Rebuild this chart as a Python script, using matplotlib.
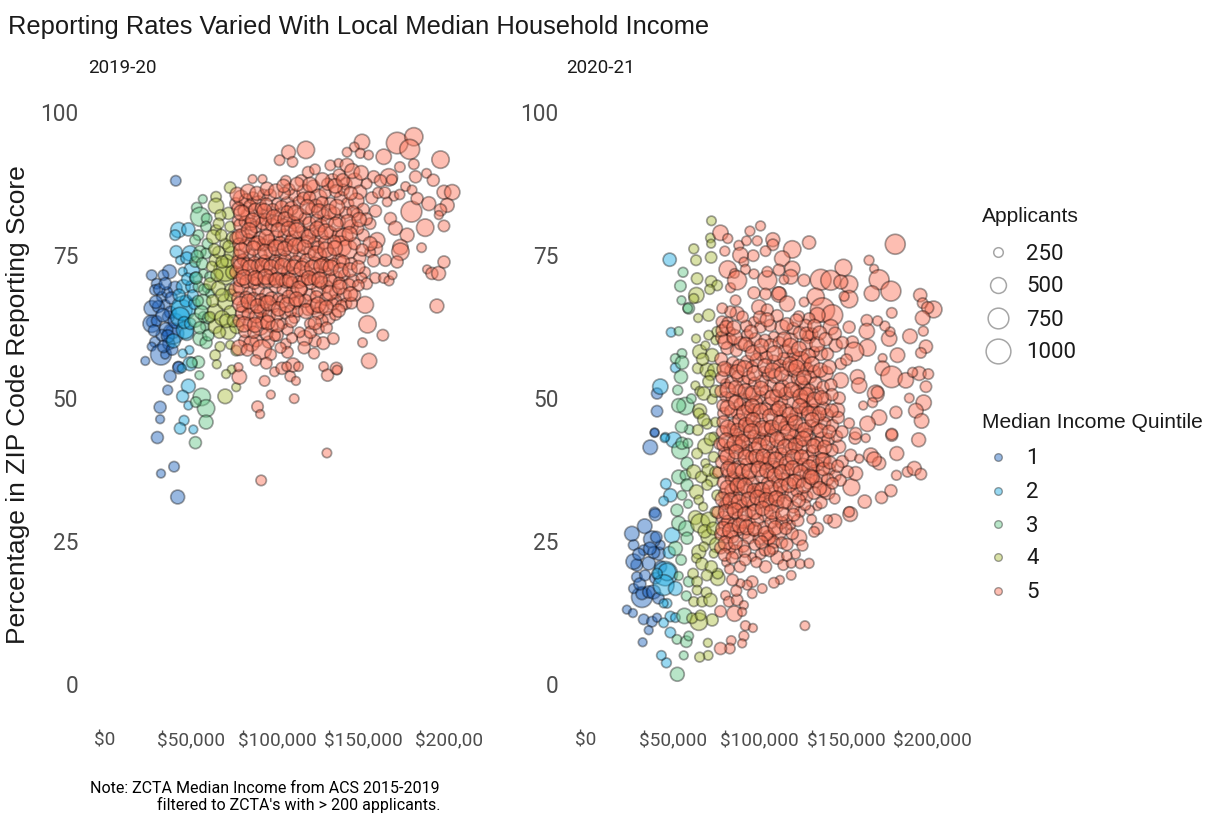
import numpy as np
import pandas as pd
import matplotlib
matplotlib.use('Agg')
import matplotlib.pyplot as plt

plt.rcParams['font.family'] = ['Roboto', 'DejaVu Sans']

# values: (median income in $1000, percent reporting, applicants)
q1_2019 = [(41.1,88,250),(27.1,71.5,250),(37.4,72.1,365),(33.9,71.5,250),(30,70,250),(40.7,69.2,365),(29,68.9,250),
           (33,67.7,250),(27.1,65.7,420),(34.9,66.3,250),(36.8,64.2,300),(27.1,63.3,250),(27.1,63,505),(39.3,61.6,365),
           (39.7,61.3,665),(29,59.8,250),(27.1,59,200),(32.5,57.6,665),(34.9,57.6,200),(23.4,56.5,200),(42.6,55.5,250),
           (42.8,55.3,300),(37.8,53.8,300),(36.4,51.4,230),(32,48.4,300),(32,46.3,200),(30.4,43.1,300),(40.1,38,250),
           (32.5,36.8,200),(42.2,32.7,365),(31,66,300),(35.5,62,350),(38,65,300),(33,61,280),(30,63.5,250),(36,68.5,260),
           (41,63.5,400),(37,59.5,300),(31.5,69,280),(35,70,300),(28.5,61.8,280),(33.5,64.5,350),(36.5,60.8,330),(34,59,300),
           (38.5,67.5,300),(29.5,66.8,320),(39,58.5,280)]
q2_2019 = [(42.6,79.4,420),(48.4,79.5,340),(40.7,78.5,250),(41.3,75.6,300),(49.4,75.3,420),(43.6,74.1,200),(50.4,72.4,420),
           (45.1,72.1,200),(45.5,69.5,365),(50.4,69.5,300),(44.6,65.4,665),(45.5,65.7,850),(43.6,64.2,580),(47.5,61.3,365),
           (46.5,61.9,505),(49,58.4,200),(45.1,57.8,200),(49.4,56,365),(44.6,55.2,200),(48.4,52.1,365),(45.1,50.3,300),
           (48.4,48.7,200),(45.9,46.1,230),(43.6,44.7,280),(51.3,44.5,200),(39.7,60,365),(47,67,300),(52,66.5,280),
           (48,70.8,300),(51,68,260),(46,63.2,300),(49.5,63,280),(52.5,71,280),(47.5,74.5,300),(43,68,300)]
q3_2019 = [(56.8,84.8,200),(53.3,83.3,250),(55.2,81.7,580),(59.1,81.4,250),(58.7,80,250),(54.3,78.5,250),(52.3,77.6,250),
           (55.2,75.6,300),(58.7,75.3,250),(52.3,73.8,250),(57.2,71.8,200),(61,71.2,250),(54.3,69.5,250),(59.1,69.2,200),
           (57.2,66.8,420),(61,68.3,200),(52.3,63.6,365),(57.2,64.2,250),(58.1,62.5,200),(55.2,60.4,365),(58.7,59.7,300),
           (54.3,56.3,300),(50.4,56.2,250),(54.8,54,200),(56.2,50.2,505),(58.7,48.2,505),(52.7,49.3,250),(58.7,45.8,365),
           (52.5,42.2,300),(56,65,350),(60,64,280),(54,67,260),(53.5,74.8,300),(56.5,73.5,280),(59.5,77,250),(55,62.3,300),
           (60,61,280),(53,71,300),(57.5,69,260)]
q4_2019 = [(72.7,86.8,280),(64.5,85.2,250),(64.5,83.6,420),(71.7,82.3,300),(72.7,80,250),(64.5,79.4,250),(63,78.2,365),
           (73.6,75.3,365),(69.8,77,250),(64,74.1,300),(69.8,71.5,580),(69.8,72.4,750),(61,70,300),(65.9,69.2,365),(72.7,69,250),
           (64,65.1,420),(69.8,66.8,420),(64,62.5,365),(72.7,65.1,300),(61,64.2,250),(71.7,61.6,420),(76.5,62.5,365),(66.8,59,230),
           (64,57.5,250),(64.9,55.9,200),(72.7,59.3,200),(76.2,58.3,250),(73.6,55,200),(70.3,54.2,200),(76.2,51.9,200),
           (69.8,50.3,390),(66,75.5,300),(68,64,400),(74,72,350),(67,82,260),(62,73,250),(73,68,300),(67.5,78.5,280),(71,74,320),
           (65,71.5,300),(74,78,300),(68,68,340),(66.5,61.5,300),(70.5,63.5,350),(62.5,67,300),(74.5,63.5,300),(68,73.8,300),
           (72,76.5,300),(63.5,76,280),(66,80.5,260)]
q5_2019 = [(90.7,35.6,250),(128.9,40.4,220),(88.6,48.5,280),(90.1,47.2,200),(96.3,50.6,200),(109.9,49.9,220),(92.7,53,250),
           (78,53.7,390),(77.5,55.4,200),(98.5,54.6,220),(102.8,55.2,300),(107.6,53.8,250),(110.9,53,200),(109.2,55.8,365),
           (112.4,55.5,220),(105.5,55.5,220),(127,55.5,220),(129.3,54,300),(134.4,55.2,300),(134.8,54.9,220),(153.4,56.5,420),
           (149.6,59.7,220),(161.4,61,280),(152.5,62.9,505),(151.1,66.3,480),(192.8,66.1,365),(183.9,76.3,220),(187.1,72.5,200),
           (189.9,71.8,300),(193.8,71.8,365),(196.9,73.8,300),(196.9,80.1,280),(186,79.8,505),(178,82.6,665),(194.9,91.7,505),
           (169.7,94.6,700),(179.4,95.7,540),(177,93.5,620),(149.3,94.8,420),(144.8,93.9,220),(148.3,92.8,230),(140.6,93,220),
           (153.1,92.5,220),(161.9,92.2,420),(116.7,93.4,505),(106.6,93,365),(101.4,91.6,250),(108.9,91.3,250),(85.7,88.3,200),
           (91.5,88.3,200),(130.9,90.7,250),(135.7,91.1,200),(140.6,90.7,365),(179.4,90.9,250),(171.3,90.4,250),(164.9,88.6,505),
           (156.1,88.7,300),(180.4,88.7,300),(186.8,89.3,220),(190.7,88.1,300),(174.6,87,220),(178.4,86.4,220),(167.8,85.3,220),
           (163.9,84.3,220),(181.3,84.9,300),(188.1,84,365),(196.9,86,365),(201.7,86,420),(198.8,83.7,365),(194.9,82.9,300),
           (193.9,82,200),(157.1,82.7,300),(165.8,81.4,300),(168.7,79.7,365),(175.5,78.5,365),(171.6,76.4,420),(171.6,75.6,505),
           (162.9,74.1,300),(169.7,73.8,300),(158.1,77.6,420),(157.1,76.2,365),(154,75.5,250),
           (76,84,300),(79,85,420),(82,84.5,365),(86,85,300),(89,84,420),(92,85.5,280),(96,85.5,300),(100,84,260),(106,84,365),(110,85.5,300),
           (105,88,250),(107,86.5,280),(114,88,300),(118,89.5,280),(122,90,250),(116,86,420),(121,87,330),(124,85,505),(128,86,300),
           (132,88,365),(136,89,300),(140,87.5,300),(145,88,420),(148,86,365),(152,87.5,250),(155,85,300),(160,88,300),(131,84,300),(137,85,330),
           (141,84,300),(146,84.5,420),(150,83,300),(154,80.5,280),(143,80,365),(136,81,300),(127,82,300),(120,83,300),(113,82,365),
           (107,81,300),(101,82,300),(95,82,365),(89,81.5,300),(83,82,365),(77,81,250),(76,78,300),(80,78.5,365),(85,79,300),(90,78,330),
           (94,79.5,300),(99,78,365),(104,78.5,300),(110,78,420),(115,79,300),(120,79,365),(125,78.5,420),(131,79,300),(136,78.5,365),
           (139,78.2,505),(137,76.5,665),(141,76,600),(145,77,300),(150,78.5,300),(154,77,365),(148,74.5,300),(156,74,300),(151,72,260),
           (143,73.5,300),(136,74,365),(130,75,420),(125,75,330),(119,75.5,300),(113,75,300),(108,75.5,365),(102,75,300),(96,75.5,300),
           (90,75,365),(84,75,300),(78,75,300),(76,72,300),(80,72,330),(85,71.5,300),(90,72,365),(96,71.5,300),(101,72,420),(106,72,300),
           (111,71.5,365),(117,72,330),(123,71.5,420),(128,72,300),(134,71,365),(139,71.5,280),(144,70.5,330),(149,71,250),(76,69,365),
           (79,69.5,420),(84,68.5,300),(89,69,300),(94,68,365),(99,69.5,300),(104,69,365),(109,68.5,330),(114,69,300),(119,68,300),
           (124,69,365),(129,69.5,300),(134,68.5,300),(139,68,365),(145,68,300),(152,70,280),(157,71,260),(162,71,250),(165,70.5,230),
           (167,71.5,200),(80,66,300),(85,66,365),(92,65.5,300),(98,66,280),(113,67,300),(118,65.5,300),(121,66,420),(126,66,365),
           (130,64,330),(134,67,300),(140,66.5,280),(126,63.5,300),(119,63,250),(78,63.5,300),(84,63,330),(90,62.5,505),(92,63.5,420),
           (97,62.5,300),(103,63,250),(106,62,280),(110,64,250),(122,60,300),(116,60.5,420),(113,61.5,250),(105,59.5,250),(100,61,300),
           (95,59.8,300),(88,60,300),(81,60,280),(85,59.5,420),(91,58.5,600),(78,58.8,420),(106,58,280),(102,58.8,260)]
# the packed middle of the 2019-20 cloud
q5_2019_core = [(77.5,83.1,330),(80.6,82.7,280),(84.2,83.6,300),(87.3,82.9,340),(90.8,83.2,290),(93.7,83.9,310),(97.4,83,280),(102.6,83.4,330),
                (104.2,85.8,300),(108.3,83.2,350),(112.7,84.3,280),(115.3,84.9,320),(118.8,85.1,300),(122.4,83.6,340),(126.1,84.2,290),(129.3,87.4,300),
                (134.2,86.2,320),(138.6,86.4,280),(142.7,85.8,340),(146.3,82.1,300),(78.6,80.2,340),(81.4,80.8,290),(84.7,80.4,310),(87.5,79.9,280),
                (91.6,80.6,340),(93.3,81.2,300),(96.9,80.3,320),(99.7,80.9,280),(103.2,80.2,350),(105.8,82.6,290),(109.4,80.7,310),(112.1,80.1,340),
                (116.3,81.4,300),(118.7,80.6,320),(122.9,81.1,290),(125.4,80.2,340),(129.1,80.9,300),(133.2,82.3,320),(139.8,82.4,290),(144.1,82.6,300),
                (77.8,76.9,310),(81.7,76.6,340),(83.3,77.7,290),(87.2,77,320),(91.9,76.8,300),(95.2,77.4,340),(97.6,76.7,290),(101.8,77.1,330),
                (105.9,76.7,310),(108.1,77.6,300),(112.7,76.8,350),(117.3,77.4,290),(121.6,77,330),(123.9,76.4,300),(127.8,77.2,320),(133.1,77.3,340),
                (77.2,73.8,340),(80.3,74.2,290),(82.6,73.4,320),(86.8,73.7,300),(88.7,73.1,340),(92.7,74,290),(94.4,73.3,310),(98.9,73.9,330),
                (100.4,73.6,300),(104.7,74.1,340),(107.3,73.2,290),(110.9,73.8,320),(114.8,73.4,300),(117.2,74.1,340),(121.8,73.6,300),(126.7,73.5,330),
                (128.9,73.2,300),(132.8,73.4,310),(138.3,73.8,330),(78.3,70.6,310),(82.2,70.4,340),(86.7,70.1,300),(88.4,70.8,330),(92.3,70.3,290),
                (95.1,70.5,350),(98.2,70.8,300),(102.9,70.7,320),(105.1,70.4,340),(108.6,70.2,290),(112.9,70.3,320),(115.4,70.6,300),(119.6,70.2,340),
                (121.3,70.9,300),(125.7,70.2,320),(130.8,70.6,340),(136.2,70.1,300),(141.7,69.8,310),(147.2,69.7,280),(77.4,67.4,330),(81.9,67.6,300),
                (86.3,67.3,340),(90.7,67.2,300),(93.1,66.8,320),(96.7,67.4,340),(100.9,67.3,300),(103.3,66.9,320),(106.8,67.7,340),(110.4,66.6,300),
                (116.4,67,330),(122.8,67.7,300),(128.4,67.3,320),(132.3,66.4,300),(137.4,66.1,290),(143.2,66.6,280),(79.7,64.9,340),(83.2,64.7,300),
                (87.8,64.3,340),(90.2,65.2,300),(95.3,64.4,320),(100.1,64.6,300),(104.6,64.9,280),(107.8,65.2,300),(111.9,65.1,250),(123.7,64.8,300),
                (81.3,61.7,320),(86.4,61.5,300),(93.9,61.2,300),(98.7,60.9,260),(108.6,60.5,250),(119.4,61.5,300),(124.2,62.1,260),(128.7,62.3,280),
                (133.9,64.6,280),(149.4,75.9,300),(146.6,79.7,320),(151.8,81.3,300),(158.7,85.9,260),(162.6,85.9,280),(166.6,88.2,250),(171.2,85.6,240),
                (76.8,85.6,380),(83.1,86.1,400),(88.2,85.8,360),(94.1,86.6,340),(99.3,86.2,380),(103.7,87.1,340),(111.6,87.4,360),(119.2,87.3,400),
                (126.3,88.2,360),(133.7,87.1,380),(138.2,88.1,340),(143.6,89.7,400),(148.8,89.4,380),(79.2,82.4,420),(85.8,81.1,380),(92.6,82.7,400),
                (98.1,81.6,420),(104.6,81.3,380),(110.8,82.4,420),(117.6,83.4,400),(124.2,82.7,380),(130.1,82.6,400),(134.8,83.4,420),(141.2,80.8,400),
                (147.7,81.2,380),(78.1,78.2,400),(83.7,79.3,420),(88.9,77.1,380),(93.8,78.1,420),(100.6,79.4,380),(106.7,79.6,400),(111.3,79.3,420),
                (118.2,78.2,380),(123.3,79.6,400),(128.3,79.1,420),(134.1,80.4,380),(142.1,78.7,400),(79.3,75.8,420),(86.2,76.2,380),(93.1,75.6,400),
                (99.4,76.3,420),(104.3,76.1,380),(110.4,76.6,420),(115.9,76.4,380),(122.3,75.3,400),(128.1,75.9,420),(133.6,76.2,400),(78.9,73.1,400),
                (84.3,72.8,420),(91.3,73.2,380),(96.6,72.9,400),(103.2,73.1,420),(109.7,72.9,380),(114.3,72.6,420),(120.3,72.8,400),(125.4,73.1,380),
                (131.2,72.8,420),(136.9,72.3,400),(142.3,72.4,380),(147.1,72.9,340),(80.6,71.1,420),(87.3,71,380),(93.4,71.2,420),(99.8,70.6,400),
                (107.2,70.6,380),(112.8,69.1,420),(118.3,71,380),(124.6,70.7,420),(130.6,68.4,400),(136.4,69.4,380),(142.6,68.2,380),(78.7,66.4,420),
                (83.4,66.9,400),(88.6,66.1,380),(94.8,66.6,420),(100.8,65.6,380),(105.7,66.3,400),(111.2,67.3,380),(116.7,65.2,400),(123.8,66.3,420),
                (128.6,65.8,380),(135.7,65.3,340),(80.7,62.9,420),(87.1,62.8,400),(94.6,63.2,380),(100.3,62.7,340),(108.2,63.4,300),(121.9,63.1,340),
                (82.7,58.4,300),(96.2,57.6,280),(87.6,56.6,260),(93.7,56.1,280),(115.7,58.8,300),(121.4,57.8,260),(126.8,59.6,320),(132.6,60.4,280)]

q1_2020 = [(23.5,13,200),(27,12.4,200),(33.2,11.3,250),(38,10.9,250),(40.9,11.6,200),(32.6,7.3,200),(36.1,9.4,200),(32.2,15.2,665),
           (27.4,16.7,230),(32.2,15.8,300),(36.1,16.1,300),(38.9,16.1,365),(29.3,18.7,250),(29.3,20.8,300),(27.4,21.4,420),(36.1,21.1,340),
           (41.8,22.8,340),(33.2,23.4,250),(27.4,24.3,250),(42.8,24.3,220),(38,25.3,480),(26.4,26.3,390),(33.8,27.6,390),(39.5,30,250),
           (39.9,29.6,300),(37,41.4,390),(39.5,43.9,200),(40.9,50.8,270),(40.9,47.7,280),(39.5,44,200),(31,17.5,300),(34,19,260),(40,18.5,280),
           (39,23,300),(43,20.5,300),(41.7,15,280),(30.4,22.7,300),(36.8,23.7,320),(40.5,25.7,280)]
q2_2020 = [(48.6,11.8,250),(51.5,11.6,220),(44.7,10.7,220),(46.3,3.7,230),(43.4,5,220),(48.6,9,250),(45.7,19.3,850),(46.7,19.6,505),
           (44.7,17.3,665),(51.5,16.7,365),(46.7,14.1,220),(44.7,14.1,200),(40.9,19.3,250),(49.6,26,420),(48.6,33,340),(44.7,32,220),
           (45.7,43.2,200),(50.5,42.7,420),(48.2,74.2,340),(49,61.5,220),(51.5,55.3,230),(42.8,52,420),(45.3,43,200),(46,35,250),(48,23,300)]
q3_2020 = [(56.3,5,200),(52.6,1.7,365),(52.4,7.8,220),(57.8,7.4,280),(59.2,8.4,220),(56.7,11.9,420),(54.4,40.9,505),(55.3,42.1,300),
           (58.7,42.1,220),(53.4,36.2,365),(57.3,36.5,250),(58.2,34.8,300),(52.4,30.4,300),(55.3,33,220),(58.8,31.5,200),(53.4,28.1,365),
           (57.8,27.2,420),(58.2,25.5,300),(51.5,23.7,365),(54.8,21.7,250),(53.4,18.9,200),(59.2,17.9,250),(57.8,15.4,230),(58.2,38.6,300),
           (55.9,72,230),(54.4,69.6,280),(55,67.1,200),(59.2,65.7,280),(58.6,65.7,220),(53.4,61.7,200),(55.3,57.8,220),(51.5,56.9,230),
           (55.3,56.2,340),(54.7,53.7,340),(52.8,51.4,230),(57.3,48.6,505),(53.4,48.7,365),(60.7,49.9,220),(59.5,44.5,220),(55,45,300)]
q4_2020 = [(70.2,7.2,200),(70.4,5,220),(65.5,4.7,230),(72.7,11.2,300),(65,10.9,505),(61.1,11.5,250),(66,12,250),(68.8,41.6,420),(64,40.3,250),
           (73.6,39.7,250),(68.8,38.6,200),(62.1,37.1,365),(72.7,35.7,340),(69.8,34.8,250),(63.6,33.6,365),(65,32.2,220),(75.6,33,250),
           (67.5,31,200),(63,29.1,365),(65.9,28.1,580),(70.7,28.7,420),(74.6,30.1,250),(70.7,25.7,420),(75.6,24.3,420),(65,23.1,365),
           (67.9,24,220),(73.6,22.8,200),(63.6,22,220),(61.7,19.3,250),(75.9,18.5,390),(75.9,19.3,250),(64,17.9,250),(64,16.4,220),
           (69.4,16,250),(62.1,14.4,230),(66.9,14.4,250),(71.7,14.7,340),(72.3,81,220),(71.7,78,220),(72.1,77,200),(62.1,76.1,230),
           (63.4,74.1,250),(72.1,74.6,280),(64,70.9,280),(72.1,70.4,280),(75.6,69.7,250),(63.6,68,420),(71.3,69,230),(62.1,67.4,230),
           (70.7,64.5,300),(64.6,64,200),(63.4,60.4,200),(75.6,61.6,250),(70.7,61,220),(74.6,60.1,200),(65.5,58.1,365),(72.7,57.5,340),
           (68.8,59.2,200),(64.4,55.2,250),(69.8,54.9,365),(74,54.9,340),(71.7,54,250),(63,52.2,200),(65.5,51.2,220),(67.9,50.8,340),
           (72.7,49.8,230),(65.5,47.8,365),(65,47.3,250),(69.8,45.5,250),(74.6,45.8,220),(64.4,44.4,250),(73.6,43.2,220),
           (67.2,56.8,300),(70.6,52.9,280),(74.8,51.2,300),(67.8,46.2,300),(71.8,42.8,320),(66.4,36.2,280),(70.4,37.4,300),(74.8,37,300),
           (68.4,26.7,340),(73.3,27.2,320),(66.8,21,300),(72.2,20.5,300),(69.6,19,260)]
q5_2020 = [(126.2,10.2,220),(91.9,10.2,230),(96.2,9.8,200),(91,8.4,230),(90,7.1,200),(83.7,7.6,220),(82.9,6.2,250),(77.5,6.2,300),
           (86.2,23.1,365),(80.8,21.3,200),(82.7,20.1,230),(88.7,20.5,280),(95.8,22.2,200),(100.6,22.7,250),(110.3,22.1,340),(103.5,20.5,300),
           (113.7,20.8,250),(120.8,22.7,220),(118.3,21.1,220),(123.5,21,220),(128.6,21.1,230),(118.3,19,220),(111.8,18.2,200),(108.3,17.7,250),
           (101.6,16.7,220),(95.8,17.9,280),(92.9,17.3,230),(89,17.6,200),(95.8,15.8,220),(80.4,15.5,220),(82.3,14.4,250),(87.1,14.7,280),
           (91,13.8,200),(77.5,12.7,280),(85.6,12.3,420),(90,12.6,200),(105.4,25.7,365),(122.8,25.6,420),(118.9,26.3,300),(133.4,27.2,300),
           (131.5,26.6,250),(143.4,28.5,365),(139.5,28.8,200),(152.3,29.7,390),(151.7,30.1,250),(160.7,31.9,340),(170.4,32.6,300),(175.8,33.8,300),
           (130.1,28.8,220),(123.4,30.1,250),(129.1,30.4,220),(133.4,31.1,200),(153,34.4,480),(139.2,33.6,420),(137.2,33.9,365),(143.4,32.4,250),
           (185.4,37.1,250),(189.3,37.7,365),(193.1,36.7,280),(179,36.5,230),(179.2,40.3,365),(191.8,42.7,365),(176.3,43.5,300),(161.3,43,200),
           (155.1,43,300),(164.2,40,390),(169,38.6,340),(166.1,39.3,390),(155.5,36.8,365),(150.7,37.1,300),(147.8,38.9,300),(152.6,40,300),
           (157.5,39.4,200),(145.9,41.5,340),(137.2,39.2,365),(133.4,38.3,300),(127.6,39.7,365),
           (178.3,76.9,620),(128.6,77.2,340),(118.9,76,505),(100.6,80.1,230),(94.5,79.2,230),(77.5,78.9,420),(81.7,77.9,230),(88.1,76.7,230),
           (92.5,77.5,220),(98.7,77.5,230),(107.7,77.7,365),(107.7,76.8,280),(80,75.7,230),(103.5,75.7,250),(96.4,74.9,280),(89,75,420),
           (91,73.8,220),(113.1,74.4,420),(163.2,74.1,230),(166.1,72.6,200),(169,70.7,620),(175.8,68.7,620),(164.8,68.3,420),(148.4,72.8,480),
           (81.7,72.5,505),(85.6,71.8,220),(91.9,72.5,230),(96.8,71.7,230),(111.2,72.4,280),(118.9,72.6,420),(118,71.2,390),(104.5,70.6,580),
           (104.5,72.1,250),(114.1,70.7,220),(125.7,70.6,300),(135.3,70.7,665),(141.1,70.6,620),(151.7,69.9,505),(146.9,70.3,365),(83.3,69.3,230),
           (87.1,70.6,580),(96.8,68.4,300),(103.5,68.2,280),(111.2,68.1,420),(111.2,68.3,340),(132.4,67.7,505),(151.7,67.3,505),(148.8,67.8,230),
           (192.7,68,340),(194.1,66.6,250),(200.4,65.5,480),(197,65.8,300),(176.3,64.9,250),(194.1,64,390),(194.5,61.7,230),(186.8,60.8,390),
           (196,59,340),(193.1,57.9,250),(179.6,57.5,390),(174.8,60.4,420),(175.4,61.6,220),(172.3,62.6,230),(168.1,63.5,230),(161.9,63.6,280),
           (161.9,61.7,420),(162.3,58.8,480),(153.6,59.8,300),(154.6,58.1,580),(171,57,200),(170.9,55.2,390),(176.2,53.7,700),(184.4,53.1,420),
           (192.1,54.3,365),(197.4,54.2,250),(188.3,54.5,230),(196,52,280),(186.4,50,220),(194.7,49.2,420),(190.2,47.8,390),(193.5,46,390),
           (178.7,47.5,300),(176.3,43.7,280),(167.1,50.8,480),(168,51,300),(165.2,49.2,230),(169,46.6,420),(162.3,45.5,420),(159.8,48.7,200),
           (156.5,53.7,390),(157.5,52.2,420),(146.9,53.1,420),(146.9,56,280),(144,59.2,340),(151.7,62.4,300),(136.3,65.4,850),(142,64.5,665),
           (133.4,64.5,420),(141.1,62.4,420),(128.6,63.9,280),(125.7,66.8,220),(116,66.5,420),(99.7,65.9,390),(104.5,65.4,300),(86.2,67.1,250),
           (87.1,64.8,365),(83.3,65.1,280),(78.5,65.7,250),(78.5,63.3,300),(83.3,61.6,220),(84.2,60.1,230),(96.8,63.3,250),(92.9,61,280),
           (100.6,62.4,280),(113.1,62.4,390),(118,60.1,390),(108.3,60.7,250),(128.6,60.7,340),(123.7,56.3,665),(123.7,56.6,505),(135.3,57.8,365),
           (139.2,57.7,300),(131.5,58.1,250),(100.6,57.8,365),(108.3,56.3,365),(92.9,56.3,340),(83.3,54.9,280),(80.4,55.2,250),(102.5,54.6,250),
           (116,55.2,365),(138.2,54.3,390),(129.5,53.7,300),(80.4,52.5,230),(91,52.8,300),(106.4,52.2,300),(113.1,52,365),(125.7,51.7,365),
           (133.4,50.8,340),(91,49.6,365),(80.4,50.2,250),(100.6,50.2,300),(106.4,48.6,505),(118,49.6,480),(129.5,49,365),(144.9,47.9,390),
           (133.4,46.7,340),(112.2,46.7,340),(100.6,46.1,365),(83.3,44.3,365),(91,45.5,250),(121.8,44.1,390),(129.5,45.2,300),(151.7,45.6,250),
           (155.5,43.8,300),(79.4,47.3,300),(87,47.5,300),(95,47,350),(106,45,300),(116,45.5,350),(124,47.5,300),(139,47,330),(146,50,300),
           (80.4,40.3,365),(85.2,39.4,300),(94.8,42.4,340),(91,40.3,280),(100.6,38.9,340),(114.1,39.2,420),(110.3,41.5,340),(121.8,40.3,300),
           (136.3,42.7,420),(129.5,42.7,300),(119.9,43.2,340),(81.3,36.8,230),(85.2,36.2,250),(91,35.9,230),(97.7,38,280),(106.4,36.8,365),
           (118.9,35.7,300),(126.6,36.8,280),(131.5,37.4,250),(135.3,36.2,365),(108.3,33.3,505),(109.3,32.7,300),(96.8,33.6,250),(86.2,34.5,280),
           (79.4,33.3,250),(85.2,32.7,300),(116,31.6,300),(124.7,33,230),(91.9,31.6,300),(79.4,31.3,230),(87.1,30.4,280),(94.8,30.1,250),
           (103.5,29.8,420),(109.3,29,300),(116,28.7,250),(79.4,29,365),(80.4,27.8,340),(87.1,29.2,250),(91,26.6,365),(96.8,26.9,300),(81.3,25.7,300),
           (88.1,26.9,250),(118,27.8,220),(105.4,25.6,365),(111.2,26.6,420),(100,43,300),(88,43,300),(77,42,280),(108,38,300),(76,37,250),(76,30,300)]
# the packed middle of the 2020-21 cloud
q5_2020_core = [(78.2,60.6,300),(81.4,58.7,320),(86.7,58.3,290),(89.2,59.6,340),(94.3,58.9,300),(97.6,60.3,320),(103.2,60.1,300),(106.4,59.2,340),
                (111.3,59.7,300),(114.7,58.2,350),(119.6,57.6,310),(126.8,59.4,320),(130.2,61.2,300),(77.9,56.8,320),(84.7,56.2,300),(88.3,55.6,340),
                (95.7,55.4,300),(98.4,56.7,330),(104.1,57.1,300),(111.6,55.7,320),(113.9,56.9,300),(119.7,54.8,340),(127.4,55.1,310),(131.6,54.6,330),
                (78.3,53.6,300),(83.8,52.7,320),(87.6,53.8,300),(93.7,53.6,340),(97.3,52.6,300),(101.4,52.9,320),(105.2,54.1,300),(109.1,53.8,350),
                (116.9,52.9,310),(122.2,53.4,340),(124.3,52.8,300),(132.4,52.6,320),(136.7,51.9,300),(141.2,52.3,300),(77.8,51.2,300),(84.4,50.1,320),
                (88.2,51.3,300),(94.6,50.7,340),(98.2,49.3,300),(103.8,51.1,320),(109.4,50.4,300),(112.4,49.4,340),(115.2,50.8,320),(121.3,51.2,300),
                (125.1,49.6,340),(128.7,51.4,300),(137.8,49.8,320),(141.8,50.6,300),(78.9,48.7,300),(83.6,47.7,320),(88.8,48.9,300),(93.4,48.2,340),
                (97.2,47.9,320),(103.4,48.1,300),(109.7,47.9,320),(115.4,47.8,340),(121.1,47.2,300),(126.6,48.1,320),(131.2,47.9,300),(136.8,48.2,320),
                (79.2,45.8,320),(85.3,45.4,300),(88.4,46.1,340),(93.6,45.1,300),(97.8,44.8,320),(103.6,44.6,340),(109.2,44.4,300),(114.4,44.8,320),
                (118.6,46.2,300),(124.7,45.1,340),(132.8,44.8,300),(137.4,45.6,320),(142.1,45.2,300),(78.6,44.1,300),(86.2,43.6,320),(91.3,43.4,300),
                (96.9,43.2,340),(102.7,42.7,300),(106.8,43.4,320),(112.3,42.9,300),(116.8,42.4,340),(123.1,42.4,320),(127.3,43.6,300),(133.2,42.1,320),
                (139.6,42.8,300),(144.6,43.3,280),(79.1,41.8,320),(83.1,41.3,300),(88.7,41.6,340),(93.2,40.8,300),(97.4,41.2,320),(103.6,40.7,340),
                (107.8,40.4,300),(112.7,40.2,320),(118.4,41.2,300),(124.8,41.4,340),(130.7,40.7,300),(135.6,40.6,320),(141.8,40.9,300),(78.3,38.8,320),
                (82.7,38.2,300),(87.9,37.9,340),(92.4,38.4,300),(95.6,39.6,320),(103.3,38.6,300),(105.4,39.4,340),(111.2,37.8,320),(116.7,37.4,300),
                (121.6,38.1,340),(125.2,38.4,300),(130.8,38.9,320),(140.3,37.6,300),(143.7,36.4,280),(79.3,35.2,320),(83.8,35.8,300),(88.6,35.4,340),
                (93.8,36.2,300),(96.2,35.2,320),(101.4,36.3,340),(104.6,35.1,300),(110.8,35.4,320),(114.3,35.8,300),(122.7,35.4,340),(128.6,35.1,300),
                (132.4,35.4,320),(139.4,35.8,300),(146.7,35.6,280),(81.2,31.7,300),(83.7,33.9,320),(88.6,33.2,300),(93.2,33.8,340),(99.7,34.1,300),
                (103.3,33.1,320),(113.3,33.6,300),(118.4,33.1,340),(121.6,33.8,300),(127.2,32.8,300),(131.4,33.4,320),(135.7,31.7,280),(84.1,30.8,320),
                (89.6,31.1,300),(96.7,31.4,320),(100.6,31.8,300),(105.7,31.4,340),(110.4,31.1,300),(119.6,30.9,280),(126.4,31.3,260),(81.8,28.4,320),
                (85.1,27.8,300),(90.4,28.4,340),(94.3,28.1,300),(98.8,28.7,320),(102.4,27.3,300),(106.8,28.3,320),(112.8,28.2,300),(122.1,28.6,300),
                (77.8,26.2,320),(84.6,25.7,300),(93.8,25.6,320),(99.8,25.4,300),(108.3,24.8,300),(112.9,24.7,280),(115.8,24.4,300),(77.6,23.8,300),
                (82.9,23.7,280),(90.6,24.1,300),(97.3,24.3,260),(103.2,23.4,280),(107.7,23.6,260),(124.8,24.2,260),(78.4,61.8,300),(92.3,62.6,280),
                (106.2,62.7,300),(119.4,62.2,300),(123.2,61.4,320),(126.7,62.7,300),(81.6,63.2,260),(90.2,64.2,280),(110.2,64.4,300),(122.7,64.3,260),
                (80.2,59.8,380),(85.6,60.7,400),(91.8,59.4,360),(96.2,57.9,400),(101.1,59.1,380),(108.8,57.8,420),(114.2,60.3,380),(117.9,59.1,420),
                (122.8,58.6,400),(128.2,57.4,380),(133.3,59.4,400),(79.8,55.1,400),(86.9,54.6,380),(91.4,55.2,420),(97.1,54.3,400),(103.2,55.6,380),
                (107.6,54.8,420),(112.8,54.2,380),(117.8,55.9,400),(121.4,55.3,420),(125.6,53.6,380),(130.3,55.9,400),(135.1,54.9,380),(140.2,55.4,360),
                (81.7,51.4,420),(86.3,51.8,380),(91.9,51.2,400),(96.3,50.8,420),(100.9,51.7,380),(107.3,50.1,400),(111.7,51.4,380),(118.6,51.4,420),
                (123.6,50.3,400),(127.1,50.6,380),(131.7,49.7,400),(135.8,50.1,360),(81.6,48.3,400),(86.3,49.2,380),(91.2,47.4,420),(95.8,48.6,380),
                (100.7,47.7,420),(106.1,46.8,400),(111.3,48.2,380),(117.6,47.1,420),(123.3,48.6,400),(128.4,47.3,380),(134.6,47.3,360),(81.7,44.8,420),
                (87.3,44.3,380),(92.2,45.3,400),(96.3,46.2,380),(101.7,44.7,420),(107.1,44.9,380),(111.8,45.6,400),(116.6,44.1,420),(120.7,45.7,380),
                (126.2,44.4,400),(130.4,46.2,380),(135.1,44.3,360),(140.2,44.1,340),(80.8,42.6,400),(85.7,42.1,420),(90.2,42.4,380),(95.3,44.2,400),
                (99.8,41.7,420),(104.9,42.1,380),(110.2,42.8,400),(114.7,41.4,420),(120.8,41.7,380),(125.3,42.9,400),(131.2,41.6,380),(137.6,41.4,360),
                (81.4,39.7,400),(86.6,40.6,380),(92.1,39.6,420),(98.2,39.7,400),(102.1,39.8,380),(109.4,39.2,420),(115.6,38.6,380),(119.2,39.7,400),
                (124.2,39.7,380),(128.7,37.9,400),(136.4,39.2,360),(81.9,37.6,400),(85.7,37.3,420),(90.3,37.2,380),(94.2,37.2,400),(99.6,37.6,420),
                (104.2,37.3,380),(108.7,36.4,400),(113.1,37,420),(118.9,37.8,380),(123.8,37,400),(129.3,36.3,380),(136.8,37.6,340),(81.6,34.3,400),
                (87.2,34.7,380),(91.6,34.6,420),(96.9,33.8,380),(101.6,33.9,400),(106.3,34.2,420),(112.2,34.6,380),(116.9,34.8,400),(120.3,35.4,380),
                (125.6,34.7,400),(130.3,36.1,380),(134.7,34.2,360),(78.6,32.3,380),(83.2,32.1,400),(88.2,31.8,420),(93.6,32.3,380),(98.8,32.6,400),
                (103.9,32.2,380),(109.8,32.4,420),(114.2,31.9,380),(122.6,32.1,340),(80.7,30.1,400),(85.9,30.3,420),(91.6,29.7,380),(97.2,30.1,400),
                (101.8,30.7,380),(107.1,30.1,400),(113.3,29.7,360),(119.7,29.6,320),(79.1,27.1,400),(83.2,26.8,420),(88.4,27.7,380),(92.7,27.4,400),
                (97.3,27.1,360),(103.6,26.3,400),(109.1,27.3,380),(115.2,27.2,300),(80.4,24.6,380),(86.1,24.7,360),(91.6,23.2,300),(101.2,24.8,320),
                (79.9,22.6,320),(84.3,22.1,300),(91.7,21.7,280),(98.2,21.3,260),(105.9,23.2,260),(115.8,22.4,240),(84.4,18.2,280),(86.6,16.3,260),
                (80.8,62.4,340),(85.2,62.3,360),(95.1,61.6,340),(100.2,64.1,320),(104.4,63.7,360),(115.7,62.9,340),(121.3,63.6,320),(127.2,61.2,360),
                (131.7,62.6,340),(134.7,61.4,360),(138.1,60.3,340),(143.6,61.3,320),(147.8,59.7,300),(150.2,56.7,280),(145.4,46.6,300),(141.6,47.8,340),
                (147.6,44.1,300),(140.7,38.7,320),(145.1,38.1,300),(142.1,35.1,280)]

quintiles = ['1', '2', '3', '4', '5']
quintile_colors = ['#2064bf', '#20abe1', '#65c787', '#adbf41', '#fb7357']
panels = [('2019-20', [q1_2019, q2_2019, q3_2019, q4_2019, q5_2019 + q5_2019_core]),
          ('2020-21', [q1_2020, q2_2020, q3_2020, q4_2020, q5_2020 + q5_2020_core])]

income_ticks = [0, 50000, 100000, 150000, 200000]
income_labels_2019 = ['$0', '$50,000', '$100,000', '$150,000', '$200,00']
income_labels_2020 = ['$0', '$50,000', '$100,000', '$150,000', '$200,000']
pct_ticks = [0, 25, 50, 75, 100]
legend_applicants = [250, 500, 750, 1000]


def marker_area(applicants, scale=0.69):
    # diameter in px follows the legend circles, then to points^2
    return ((np.sqrt(applicants) - 5.8) * scale) ** 2


W, H = 1206, 815
fig = plt.figure(figsize=(W / 100, H / 100), dpi=100)
edge = (0, 0, 0, 0.36)
helv = ['Liberation Sans', 'DejaVu Sans']

boxes = [(88, 482, -9900, 219000, income_labels_2019, 7), (566, 975, -11600, 224300, income_labels_2020, 5.5)]
for (name, groups), (x0, x1, xmin, xmax, labels, ypad) in zip(panels, boxes):
    ax = fig.add_axes([x0 / W, (H - 700) / H, (x1 - x0) / W, 605 / H])
    for rows, color in zip(groups, quintile_colors):
        df = pd.DataFrame(rows, columns=['income', 'pct', 'applicants'])
        ax.scatter(df['income'] * 1000, df['pct'], s=marker_area(df['applicants'], 0.75),
                   facecolor=matplotlib.colors.to_rgba(color, 0.46), edgecolor=edge, linewidth=1.25, clip_on=False)
    ax.set_xlim(xmin, xmax)
    ax.set_ylim(-2.8, 103)
    ax.set_xticks(income_ticks)
    ax.set_xticklabels(labels, fontsize=13.7, color='#4d4d4d')
    ax.set_yticks(pct_ticks)
    ax.set_yticklabels(pct_ticks, fontsize=16.3, color='#4d4d4d')
    ax.tick_params(axis='x', length=0, pad=23)
    ax.tick_params(axis='y', length=0, pad=ypad)
    for spine in ax.spines.values():
        spine.set_visible(False)
    ax.patch.set_alpha(0)
    fig.text((x0 + 0.5) / W, 1 - 68 / H, name, fontsize=13.5, color='#1a1a1a', va='center')

fig.text(8 / W, 1 - 27 / H, 'Reporting Rates Varied With Local Median Household Income', fontsize=18.4,
         va='center', family=helv, color='#1a1a1a')
fig.text(18 / W, 1 - 405 / H, 'Percentage in ZIP Code Reporting Score', fontsize=19, rotation=90, va='center',
         ha='center', family=helv, color='#1a1a1a')
fig.text(440 / W, 1 - 797 / H, "Note: ZCTA Median Income from ACS 2015-2019\nfiltered to ZCTA's with > 200 applicants.",
         fontsize=11.5, ha='right', va='center', multialignment='right', linespacing=1.1)

# legends, placed by hand in pixel coordinates
leg = fig.add_axes([0, 0, 1, 1])
leg.set_xlim(0, W)
leg.set_ylim(H, 0)
leg.axis('off')
leg.text(982, 216, 'Applicants', fontsize=15.1, va='center', family=helv, color='#1a1a1a')
for y, n in zip([252, 285, 318, 351], legend_applicants):
    leg.scatter([998], [y], s=marker_area(n), facecolor='white', edgecolor=(0, 0, 0, 0.35), linewidth=1.1)
    leg.text(1026, y + 2, str(n), fontsize=16, va='center', color='#1a1a1a')
leg.text(982, 423, 'Median Income Quintile', fontsize=15.1, va='center', family=helv, color='#1a1a1a')
for y, q, color in zip([457, 491, 524, 557, 591], quintiles, quintile_colors):
    leg.scatter([998], [y], s=marker_area(190), facecolor=matplotlib.colors.to_rgba(color, 0.46),
                edgecolor=edge, linewidth=1.0)
    leg.text(1026, y + 2, q, fontsize=16, va='center', color='#1a1a1a')

fig.savefig('out.png', dpi=100)
